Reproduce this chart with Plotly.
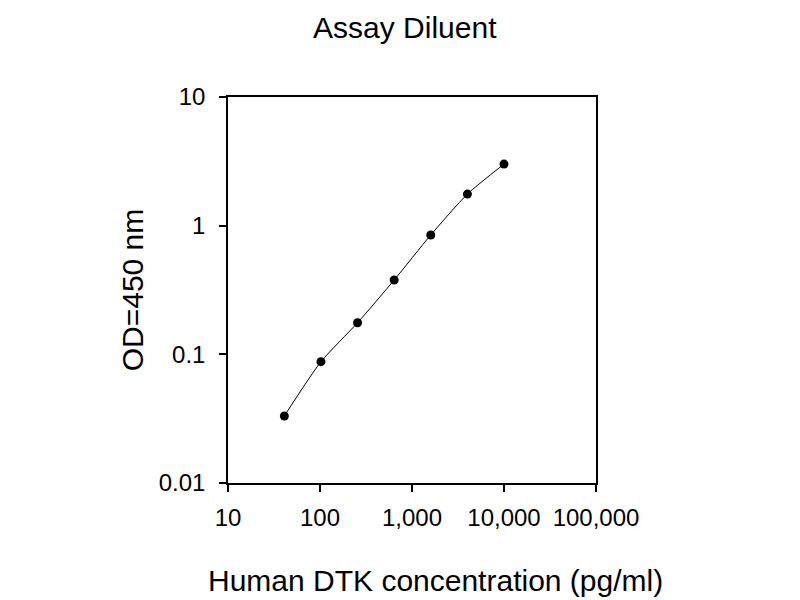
import plotly.graph_objects as go

conc = [40.96, 102.4, 256, 640, 1600, 4000, 10000]
od = [0.0332, 0.0877, 0.176, 0.378, 0.847, 1.76, 3.01]

x_ticks = [10, 100, 1000, 10000, 100000]
x_labels = ["10", "100", "1,000", "10,000", "100,000"]
y_ticks = [0.01, 0.1, 1, 10]
y_labels = ["0.01", "0.1", "1", "10"]

fig = go.Figure()
fig.add_trace(go.Scatter(
    x=conc, y=od, mode="lines+markers",
    line=dict(color="black", width=1, shape="spline", smoothing=0.6),
    marker=dict(color="black", size=9),
    showlegend=False,
))

font = "Liberation Sans, Arial, sans-serif"
fig.update_layout(
    width=800, height=600,
    margin=dict(l=220, r=212, t=89, b=125),
    paper_bgcolor="white", plot_bgcolor="white",
    font=dict(family=font, color="black"),
    title=dict(text="Assay Diluent", x=0.496, xanchor="center", y=0.968,
               yanchor="middle", font=dict(size=30, color="black")),
)
# x title placed as annotation (sits right of centre in the original)
fig.add_annotation(
    text="Human DTK concentration (pg/ml)", xref="paper", yref="paper",
    x=0.5625, y=0, yshift=-97, xanchor="center", yanchor="middle",
    showarrow=False, font=dict(size=30, color="black"),
)
fig.update_xaxes(
    type="log", range=[1, 5], tickvals=x_ticks, ticktext=x_labels,
    ticks="outside", ticklen=7, tickwidth=1.5, tickcolor="black",
    showline=True, linecolor="black", linewidth=1.5, mirror=True,
    showgrid=False, zeroline=False, tickfont=dict(size=24),
    ticklabelstandoff=5,
)
fig.update_yaxes(
    type="log", range=[-2, 1], tickvals=y_ticks, ticktext=y_labels,
    ticks="outside", ticklen=7, tickwidth=1.5, tickcolor="black",
    showline=True, linecolor="black", linewidth=1.5, mirror=True,
    showgrid=False, zeroline=False, tickfont=dict(size=24),
    ticklabelstandoff=9,
    title=dict(text="OD=450 nm", font=dict(size=30), standoff=6),
)

fig.write_html("out.html")
